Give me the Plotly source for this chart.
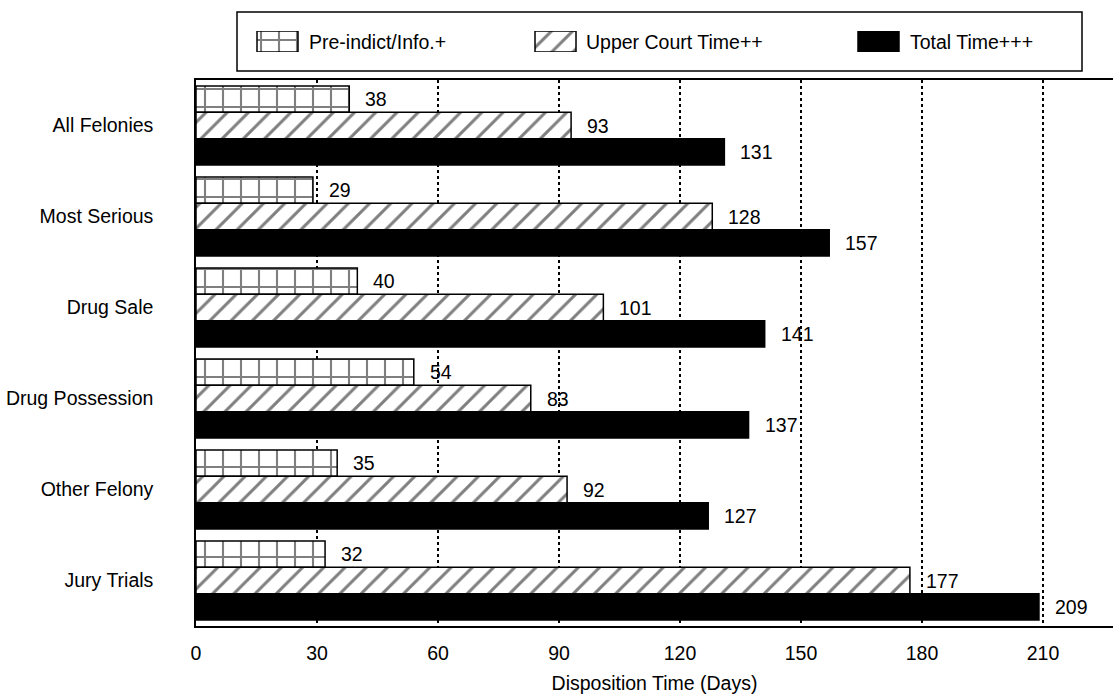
import plotly.graph_objects as go

# Data
categories = ["All Felonies", "Most Serious", "Drug Sale", "Drug Possession",
              "Other Felony", "Jury Trials"]
pre_indict = [38, 29, 40, 54, 35, 32]
upper_court = [93, 128, 101, 83, 92, 177]
total_time = [131, 157, 141, 137, 127, 209]
series_names = ["Pre-indict/Info.+", "Upper Court Time++", "Total Time+++"]
x_ticks = [0, 30, 60, 90, 120, 150, 180, 210]

# Layout constants (pixels)
W, H = 1113, 694
BOTTOM = 68
PAPER_H = H - BOTTOM          # paper spans the top 626 px
PLOT_LEFT, PLOT_TOP = 196, 80
X_MAX = 210 * (W - PLOT_LEFT) / (1043 - PLOT_LEFT)
FONT = "Liberation Sans, Arial, sans-serif"
FS = 19.5


def px_x(px):
    return px / W


def px_y(py):
    return (PAPER_H - py) / PAPER_H


BAR_W = 0.29
offsets = [-1.5 * BAR_W, -0.5 * BAR_W, 0.5 * BAR_W]
patterns = [
    dict(shape="+", size=18, solidity=0.22, fgcolor="black", bgcolor="white"),
    dict(shape="/", size=15, solidity=0.2, fgcolor="black", bgcolor="white"),
    dict(shape="", fgcolor="black", bgcolor="black"),
]
series = [pre_indict, upper_court, total_time]
ypos = list(range(len(categories)))

fig = go.Figure()
for name, vals, off, pat in zip(series_names, series, offsets, patterns):
    fig.add_trace(go.Bar(
        x=vals, y=ypos, orientation="h", name=name,
        width=BAR_W, offset=off,
        marker=dict(color="black" if pat["shape"] == "" else "white",
                    pattern=pat, line=dict(color="black", width=1.5)),
        showlegend=False, hoverinfo="x+name",
    ))

# value labels beside each bar
for vals, off in zip(series, offsets):
    for i, v in enumerate(vals):
        fig.add_annotation(x=v, y=i + off + BAR_W / 2, text=str(v),
                           showarrow=False, xanchor="left", yanchor="middle",
                           xshift=14, font=dict(family=FONT, size=FS, color="black"))

# legend: framed box with patterned swatches
leg_swatch_x = [257, 535, 858]
leg_text_x = [307, 584, 908]
for name, pat, sx in zip(series_names, patterns, leg_swatch_x):
    fig.add_trace(go.Bar(
        x=[41], base=[sx], y=[0.5], width=[1], orientation="h",
        xaxis="x2", yaxis="y2",
        marker=dict(color="black" if pat["shape"] == "" else "white",
                    pattern=pat, line=dict(color="black", width=1.5)),
        showlegend=False, hoverinfo="skip",
    ))
for name, tx in zip(series_names, leg_text_x):
    fig.add_annotation(xref="paper", yref="paper", x=px_x(tx), y=px_y(41.5),
                       text=name, showarrow=False, xanchor="left", yanchor="middle",
                       font=dict(family=FONT, size=FS, color="black"))
fig.add_shape(type="rect", xref="paper", yref="paper",
              x0=px_x(237), x1=px_x(1082), y0=px_y(71), y1=px_y(12),
              line=dict(color="black", width=1.5), fillcolor="rgba(0,0,0,0)")

fig.update_layout(
    width=W, height=H,
    margin=dict(l=0, r=0, t=0, b=BOTTOM),
    paper_bgcolor="white", plot_bgcolor="white",
    font=dict(family=FONT, size=FS, color="black"),
    barmode="overlay",
    xaxis=dict(
        domain=[px_x(PLOT_LEFT), 1], range=[0, X_MAX],
        tickvals=x_ticks, ticktext=[str(t) for t in x_ticks],
        showgrid=True, gridcolor="black", griddash="dot", gridwidth=1.5,
        zeroline=False, showline=True, linecolor="black", linewidth=1.5,
        mirror=True, ticks="", ticklabelstandoff=9,
        title=dict(text="Disposition Time (Days)", standoff=14,
                   font=dict(family=FONT, size=FS)),
        automargin=False,
    ),
    yaxis=dict(
        domain=[0, px_y(PLOT_TOP)], range=[len(categories) - 0.5, -0.5],
        tickvals=ypos, ticktext=categories,
        showgrid=False, zeroline=False, showline=True, linecolor="black",
        linewidth=1.5, ticks="", ticklabelstandoff=37, automargin=False,
    ),
    xaxis2=dict(domain=[0, 1], range=[0, W], visible=False, fixedrange=True),
    yaxis2=dict(domain=[px_y(52), px_y(31)], range=[0, 1], visible=False,
                fixedrange=True, anchor="x2"),
)

fig.write_html("out.html")
